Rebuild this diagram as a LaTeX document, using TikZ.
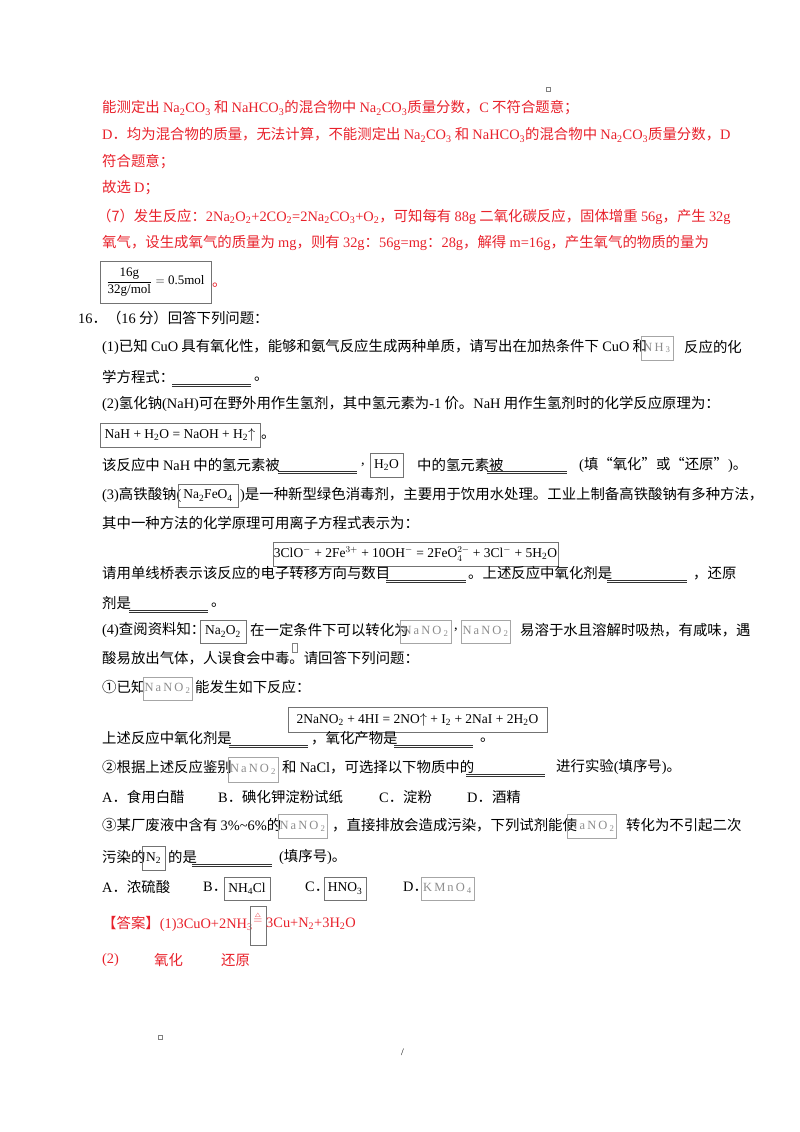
\documentclass[tikz,border=0pt]{standalone}
\usepackage{fontspec}
\setmainfont{Noto Sans CJK SC}
\newfontfamily\tm{Liberation Serif}
\definecolor{ansred}{HTML}{E8212B}
\newcommand{\lsub}[1]{\textsubscript{#1}}
\newcommand{\gN}{{\tm\color{black!45}N\,a\,N\,O\,\lsub{2}}}
\begin{document}
\begin{tikzpicture}[x=1pt,y=-1pt,
 t/.style={anchor=west,inner sep=0pt,font=\fontsize{14.4}{16}\selectfont},
 r/.style={t,text=ansred},
 bx/.style={draw=black!55,line width=0.6pt,inner sep=0pt,font=\fontsize{13.5}{16}\selectfont\tm},
 gb/.style={draw=black!35,line width=0.6pt,inner sep=0pt,font=\fontsize{12.5}{16}\selectfont},
 blank/.style={line width=0.7pt,draw=black!80}]
\useasboundingbox (0,0) rectangle (800,1132);
\newcommand{\blk}[3]{\draw[blank] (#1,#3) -- (#2,#3); \draw[blank] (#1,#3+2) -- (#2,#3+2);}
\newcommand{\bxat}[6][bx]{\node[#1,minimum width=#4-#2,minimum height=#5-#3] at ({(#2+#4)/2},{(#3+#5)/2}) {#6};}
% small marks
\draw[black!50,line width=0.4pt] (546,87) rectangle (550,91);
\draw[black!50,line width=0.4pt] (158,1035) rectangle (162,1039);
\node[t,font=\fontsize{10}{12}\selectfont\tm] at (401,1052) {/};
% red part
\node[r] at (102,108) {能测定出 {\tm Na\lsub2CO\lsub3} 和 {\tm NaHCO\lsub3}的混合物中 {\tm Na\lsub2CO\lsub3}质量分数，{\tm C} 不符合题意；};
\node[r] at (102,135) {{\tm D}．均为混合物的质量，无法计算，不能测定出 {\tm Na\lsub2CO\lsub3} 和 {\tm NaHCO\lsub3}的混合物中 {\tm Na\lsub2CO\lsub3}质量分数，{\tm D}};
\node[r] at (102,162) {符合题意；};
\node[r] at (102,188) {故选 {\tm D}；};
\node[r] at (97,217) {（7）发生反应：{\tm 2Na\lsub2O\lsub2+2CO\lsub2=2Na\lsub2CO\lsub3+O\lsub2}，可知每有 {\tm 88g} 二氧化碳反应，固体增重 {\tm 56g}，产生 {\tm 32g}};
\node[r] at (102,243) {氧气，设生成氧气的质量为 {\tm mg}，则有 {\tm 32g}：{\tm 56g=mg}：{\tm 28g}，解得 {\tm m=16g}，产生氧气的物质的量为};
\bxat{100}{261}{211}{303}{\fontsize{13}{15}\selectfont$\displaystyle\frac{\mbox{\tm 16g}}{\mbox{\tm 32g/mol}}=\mbox{\tm 0.5mol}$}
\node[r] at (212,285) {。};
% question 16
\node[t] at (78,318) {{\tm 16}．（{\tm 16} 分）回答下列问题：};
\node[t] at (102,347) {{\tm (1)}已知 {\tm CuO} 具有氧化性，能够和氨气反应生成两种单质，请写出在加热条件下 {\tm CuO} 和};
\bxat[gb]{641}{336}{673}{360}{{\tm\color{black!45}N\,H\,\lsub3}}
\node[t] at (684,347) {反应的化};
\node[t] at (102,377) {学方程式：};
\blk{172}{251}{384}
\node[t] at (254,379) {。};
\node[t] at (102,404) {{\tm (2)}氢化钠{\tm (NaH)}可在野外用作生氢剂，其中氢元素为{\tm -1} 价。{\tm NaH} 用作生氢剂时的化学反应原理为：};
\bxat{100}{423}{260}{447}{NaH + H\lsub2O = NaOH + H\lsub2$\uparrow$}
\node[t] at (261,437) {。};
\node[t] at (102,465) {该反应中 {\tm NaH} 中的氢元素被};
\blk{278}{357}{471}
\node[t] at (361,465) {{\tm ,}};
\bxat{370}{453}{403}{477}{H\lsub2O}
\node[t] at (417,465) {中的氢元素被};
\blk{487}{567}{471}
\node[t] at (579,465) {{\tm (}填“氧化”或“还原”{\tm )}。};
\node[t] at (102,495) {{\tm (3)}高铁酸钠{\tm (}};
\bxat{178}{484}{238}{507}{Na\lsub2FeO\lsub4}
\node[t] at (240,495) {{\tm )}是一种新型绿色消毒剂，主要用于饮用水处理。工业上制备高铁酸钠有多种方法，};
\node[t] at (102,523) {其中一种方法的化学原理可用离子方程式表示为：};
\bxat{273}{542}{558}{566}{3ClO$^-$ + 2Fe$^{3+}$ + 10OH$^-$ = 2FeO$_4^{2-}$ + 3Cl$^-$ + 5H\lsub2O}
\node[t] at (102,573) {请用单线桥表示该反应的电子转移方向与数目};
\blk{386}{466}{580}
\node[t] at (468,573) {。上述反应中氧化剂是};
\blk{607}{687}{580}
\node[t] at (693,573) {，还原};
\node[t] at (102,603) {剂是};
\blk{129}{208}{610}
\node[t] at (211,605) {。};
\node[t] at (102,630) {{\tm (4)}查阅资料知：};
\bxat{200}{620}{246}{643}{Na\lsub2O\lsub2}
\node[t] at (250,630) {在一定条件下可以转化为};
\bxat[gb]{400}{620}{451}{643}{\gN}
\node[t] at (454,630) {{\tm ,}};
\bxat[gb]{461}{620}{510}{643}{\gN}
\node[t] at (520,630) {易溶于水且溶解时吸热，有咸味，遇};
\node[t] at (102,658) {酸易放出气体，人误食会中毒。请回答下列问题：};
\draw[black!50,line width=0.4pt] (292,643) rectangle (297,652);
\node[t] at (102,687) {①已知};
\bxat[gb]{143}{677}{192}{700}{\gN}
\node[t] at (195,687) {能发生如下反应：};
\bxat{288}{707}{547}{732}{2NaNO\lsub2 + 4HI = 2NO$\uparrow$ + I\lsub2 + 2NaI + 2H\lsub2O}
\node[t] at (102,738) {上述反应中氧化剂是};
\blk{229}{308}{745}
\node[t] at (311,738) {，氧化产物是};
\blk{394}{473}{745}
\node[t] at (480,740) {。};
\node[t] at (102,767) {②根据上述反应鉴别};
\bxat[gb]{228}{757}{278}{782}{\gN}
\node[t] at (282,767) {和 {\tm NaCl}，可选择以下物质中的};
\blk{466}{545}{774}
\node[t] at (556,767) {进行实验{\tm (}填序号{\tm )}。};
\node[t] at (102,797) {{\tm A}．食用白醋};
\node[t] at (218,797) {{\tm B}．碘化钾淀粉试纸};
\node[t] at (379,797) {{\tm C}．淀粉};
\node[t] at (467,797) {{\tm D}．酒精};
\node[t] at (102,825) {③某厂废液中含有 {\tm 3\%\textasciitilde6\%}的};
\bxat[gb]{278}{814}{327}{838}{\gN}
\node[t] at (332,825) {，直接排放会造成污染，下列试剂能使};
\bxat[gb]{567}{814}{616}{838}{\gN}
\node[t] at (626,825) {转化为不引起二次};
\node[t] at (102,857) {污染的};
\bxat{142}{846}{165}{870}{N\lsub2}
\node[t] at (168,857) {的是};
\blk{192}{272}{864}
\node[t] at (279,857) {{\tm (}填序号{\tm )}。};
\node[t] at (102,887) {{\tm A}．浓硫酸};
\node[t] at (203,887) {{\tm B}．};
\bxat{224}{877}{270}{900}{NH\lsub4Cl}
\node[t] at (305,887) {{\tm C}．};
\bxat{324}{877}{366}{900}{HNO\lsub3}
\node[t] at (403,887) {{\tm D}．};
\bxat[gb]{421}{877}{474}{900}{{\tm\color{black!45}K\,M\,n\,O\,\lsub4}}
% answer
\node[r] at (102,924) {【答案】{\tm (1)3CuO+2NH\lsub3}};
\draw[black!55,line width=0.6pt] (250,906) rectangle (266,945);
\node[r,anchor=center,font=\fontsize{12}{14}\selectfont] at (258,918) {$\stackrel{\scriptscriptstyle\triangle}{=}$};
\node[r] at (266,924) {{\tm 3Cu+N\lsub2+3H\lsub2O}};
\node[r] at (102,960) {{\tm (2)}};
\node[r] at (154,960) {氧化};
\node[r] at (221,960) {还原};
\end{tikzpicture}
\end{document}
